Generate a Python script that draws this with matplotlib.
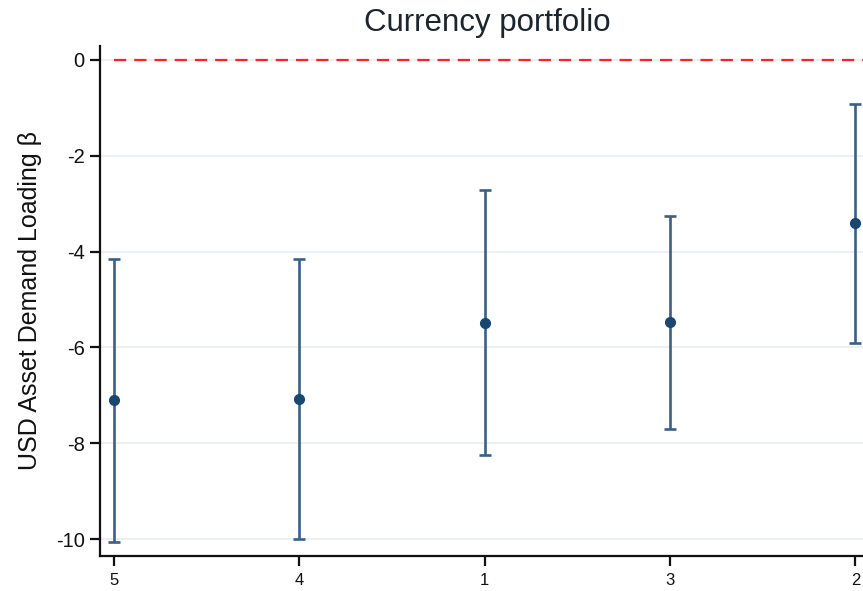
import matplotlib
matplotlib.use("Agg")
import matplotlib.pyplot as plt

# Portfolio estimates, ordered as shown along the axis
portfolios = ["5", "4", "1", "3", "2"]
beta = [-7.10, -7.08, -5.48, -5.46, -3.41]
ci_low = [-10.06, -10.00, -8.25, -7.70, -5.91]
ci_high = [-4.15, -4.15, -2.71, -3.26, -0.92]
y_ticks = [0, -2, -4, -6, -8, -10]

plt.rcParams["font.family"] = ["Liberation Sans", "DejaVu Sans"]

W, H = 863, 591
fig = plt.figure(figsize=(W / 100, H / 100), dpi=100)
ax = fig.add_axes([100 / W, 1 - 556 / H, 774 / W, 510 / H])

x = list(range(1, len(portfolios) + 1))
err_lo = [b - lo for b, lo in zip(beta, ci_low)]
err_hi = [hi - b for b, hi in zip(beta, ci_high)]

# grid lines behind everything
for t in y_ticks:
    ax.axhline(t, color="#e6eef2", lw=1.2, zorder=0)

# reference line at zero
ax.plot([x[0], x[-1] + 0.3], [0, 0], color="#ff2020", lw=1.6,
        dashes=(5.5, 3.6), zorder=1)

ax.errorbar(x, beta, yerr=[err_lo, err_hi], fmt="none", ecolor="#3a5f88",
            elinewidth=1.9, capsize=4, capthick=1.9, zorder=2)
ax.plot(x, beta, "o", color="#1a476f", ms=7, zorder=3)

ax.set_xlim(0.924, 5.10)
ax.set_ylim(-10.35, 0.29)
ax.set_xticks(x)
ax.set_xticklabels(portfolios)
ax.set_yticks(y_ticks)
ax.set_yticklabels([str(t) for t in y_ticks])

for s in ("top", "right"):
    ax.spines[s].set_visible(False)
for s in ("left", "bottom"):
    ax.spines[s].set_linewidth(1.6)
    ax.spines[s].set_color("#111111")

ax.tick_params(axis="y", length=7, width=1.6, labelsize=14.5, pad=4,
               colors="#111111")
ax.tick_params(axis="x", length=7, width=1.6, labelsize=12, pad=5,
               colors="#111111")

ax.set_ylabel("USD Asset Demand Loading β", fontsize=18, color="#111111",
              labelpad=10)
fig.text(487 / W, 1 - 23 / H, "Currency portfolio", fontsize=22.5,
         color="#1c2430", ha="center", va="center")

fig.savefig("out.png", dpi=100, facecolor="white")
